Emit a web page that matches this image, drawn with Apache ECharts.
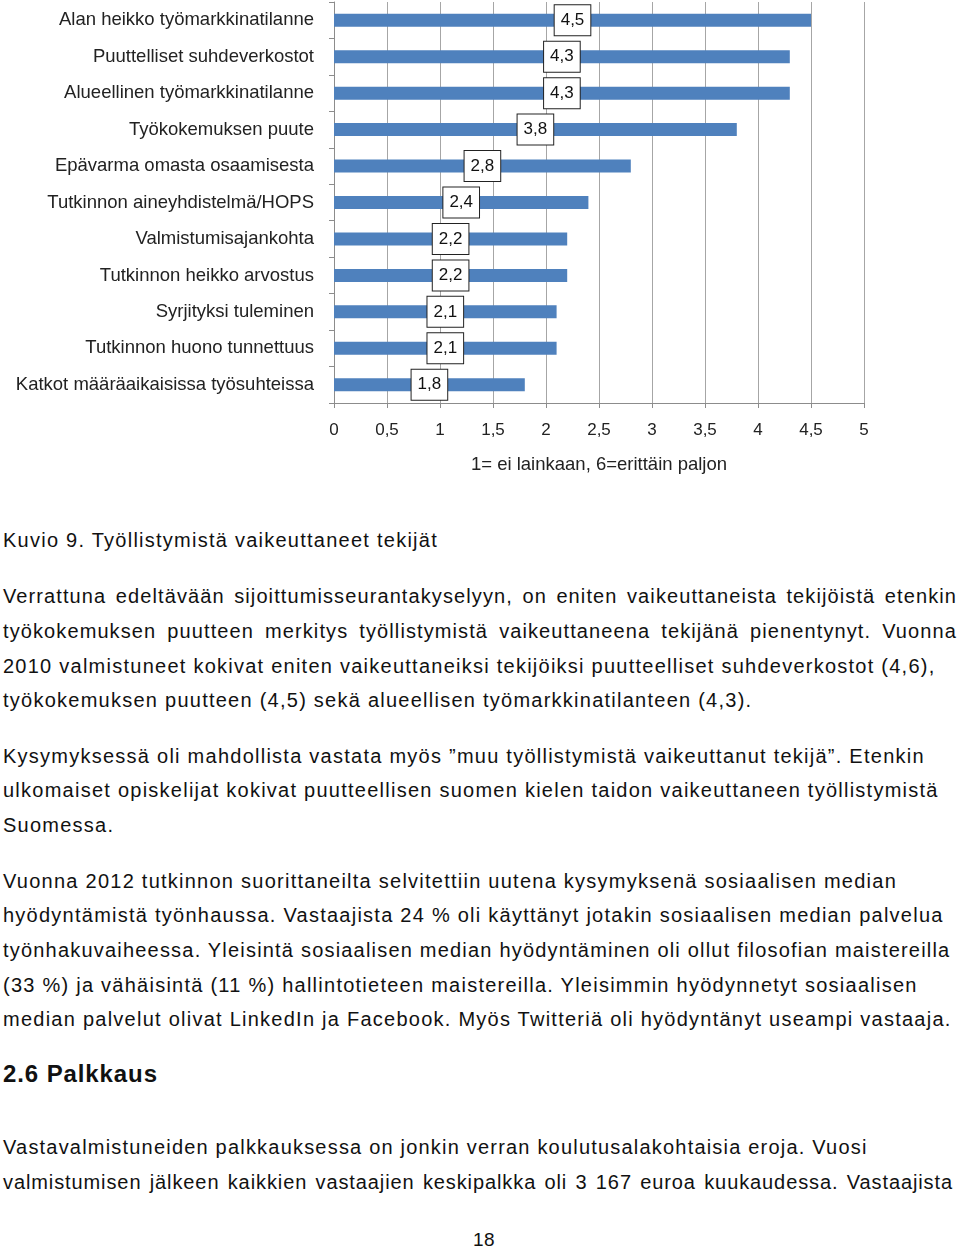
<!DOCTYPE html>
<html>
<head>
<meta charset="utf-8">
<script src="https://cdn.jsdelivr.net/npm/echarts@6/dist/echarts.min.js"></script>
<style>
  html, body { margin: 0; padding: 0; background: #fff; }
  #page { position: relative; width: 960px; height: 1249px; overflow: hidden; font-family: "Liberation Sans", Arial, sans-serif; color: #111; }
  #chart { position: absolute; left: 0; top: 0; width: 960px; height: 490px; }
  .ln { position: absolute; left: 3px; width: 954px; font-size: 20px; line-height: 24px; white-space: nowrap; letter-spacing: 1.25px; }
  .j { text-align: justify; text-align-last: justify; }
  .h { font-weight: bold; font-size: 24px; letter-spacing: 0.9px; }
</style>
</head>
<body>
<div id="page">
  <div id="chart"></div>
  <div class="ln" style="top:528px">Kuvio 9. Työllistymistä vaikeuttaneet tekijät</div>

  <div class="ln j" style="top:584px; letter-spacing:1.1px">Verrattuna edeltävään sijoittumisseurantakyselyyn, on eniten vaikeuttaneista tekijöistä etenkin</div>
  <div class="ln j" style="top:619px; letter-spacing:1.1px">työkokemuksen puutteen merkitys työllistymistä vaikeuttaneena tekijänä pienentynyt. Vuonna</div>
  <div class="ln" style="top:654px">2010 valmistuneet kokivat eniten vaikeuttaneiksi tekijöiksi puutteelliset suhdeverkostot (4,6),</div>
  <div class="ln" style="top:688px">työkokemuksen puutteen (4,5) sekä alueellisen työmarkkinatilanteen (4,3).</div>

  <div class="ln" style="top:744px">Kysymyksessä oli mahdollista vastata myös ”muu työllistymistä vaikeuttanut tekijä”. Etenkin</div>
  <div class="ln" style="top:778px">ulkomaiset opiskelijat kokivat puutteellisen suomen kielen taidon vaikeuttaneen työllistymistä</div>
  <div class="ln" style="top:813px">Suomessa.</div>

  <div class="ln" style="top:869px">Vuonna 2012 tutkinnon suorittaneilta selvitettiin uutena kysymyksenä sosiaalisen median</div>
  <div class="ln" style="top:903px">hyödyntämistä työnhaussa. Vastaajista 24 % oli käyttänyt jotakin sosiaalisen median palvelua</div>
  <div class="ln" style="top:938px; letter-spacing:1.2px">työnhakuvaiheessa. Yleisintä sosiaalisen median hyödyntäminen oli ollut filosofian maistereilla</div>
  <div class="ln" style="top:973px">(33 %) ja vähäisintä (11 %) hallintotieteen maistereilla. Yleisimmin hyödynnetyt sosiaalisen</div>
  <div class="ln" style="top:1007px">median palvelut olivat LinkedIn ja Facebook. Myös Twitteriä oli hyödyntänyt useampi vastaaja.</div>

  <div class="ln h" style="top:1062px">2.6 Palkkaus</div>

  <div class="ln" style="top:1135px; letter-spacing:1.2px">Vastavalmistuneiden palkkauksessa on jonkin verran koulutusalakohtaisia eroja. Vuosi</div>
  <div class="ln j" style="top:1170px; width:950px; letter-spacing:0.9px">valmistumisen jälkeen kaikkien vastaajien keskipalkka oli 3 167 euroa kuukaudessa. Vastaajista</div>

  <div class="ln" style="top:1228px; left:0; width:968px; text-align:center; font-size:19px; letter-spacing:0.5px;">18</div>
</div>
<script>
const categories = [
  "Alan heikko työmarkkinatilanne",
  "Puuttelliset suhdeverkostot",
  "Alueellinen työmarkkinatilanne",
  "Työkokemuksen puute",
  "Epävarma omasta osaamisesta",
  "Tutkinnon aineyhdistelmä/HOPS",
  "Valmistumisajankohta",
  "Tutkinnon heikko arvostus",
  "Syrjityksi tuleminen",
  "Tutkinnon huono tunnettuus",
  "Katkot määräaikaisissa työsuhteissa"
];
const values = [4.5, 4.3, 4.3, 3.8, 2.8, 2.4, 2.2, 2.2, 2.1, 2.1, 1.8];
const axisMin = 0, axisMax = 5, axisStep = 0.5;
const axisTitle = "1= ei lainkaan, 6=erittäin paljon";

const fmt = v => String(v).replace('.', ',');
const chart = echarts.init(document.getElementById('chart'), null, { renderer: 'canvas' });
chart.setOption({
  animation: false,
  textStyle: { fontFamily: '"Liberation Sans", Arial, sans-serif' },
  grid: { left: 334, right: 96, top: 2, height: 401, containLabel: false },
  xAxis: {
    type: 'value', min: axisMin, max: axisMax, interval: axisStep,
    axisLine: { show: true, lineStyle: { color: '#8c8c8c', width: 1 } },
    axisTick: { show: true, length: 5, lineStyle: { color: '#8c8c8c' } },
    splitLine: { show: true, lineStyle: { color: '#a6a6a6', width: 1 } },
    axisLabel: { formatter: v => fmt(v), fontSize: 17, color: '#222', margin: 19 },
    name: axisTitle, nameLocation: 'middle', nameGap: 52,
    nameTextStyle: { fontSize: 18.5, color: '#222' }
  },
  yAxis: {
    type: 'category', data: categories, inverse: true,
    axisLine: { show: true, lineStyle: { color: '#8c8c8c', width: 1 } },
    axisTick: { show: true, length: 5, lineStyle: { color: '#8c8c8c' } },
    axisLabel: { fontSize: 18.5, color: '#222', margin: 20 }
  },
  series: [{
    type: 'bar', data: values, barWidth: 13,
    itemStyle: { color: '#4f81bd' },
    label: {
      show: true, position: 'inside', formatter: p => fmt(p.value),
      fontSize: 17, color: '#111', backgroundColor: '#fff',
      borderColor: '#222', borderWidth: 1, padding: [7, 6, 6, 6]
    }
  }]
});
</script>
</body>
</html>
